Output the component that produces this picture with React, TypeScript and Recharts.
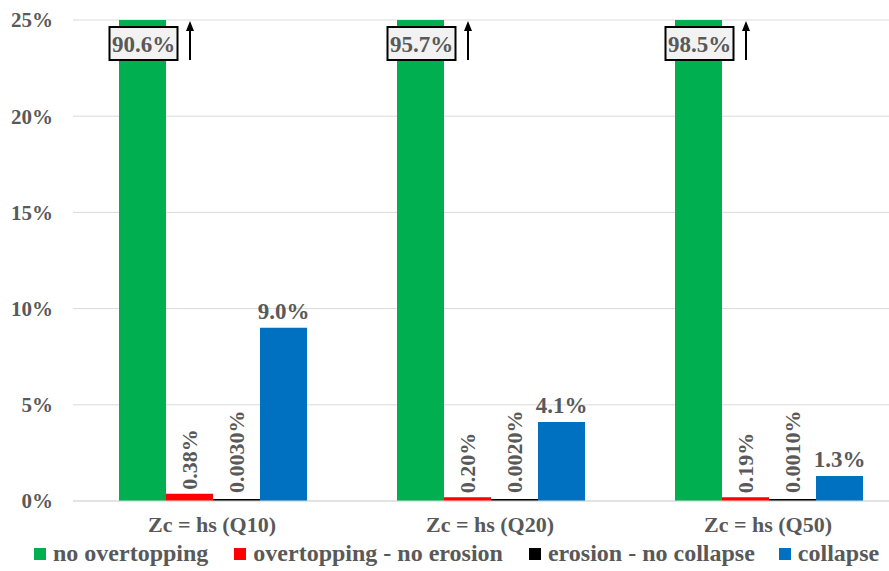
import React from 'react';
import { BarChart, Bar, XAxis, YAxis, CartesianGrid, Legend, LabelList } from 'recharts';

// Scenario categories along the x axis
const categories = ['Zc = hs (Q10)', 'Zc = hs (Q20)', 'Zc = hs (Q50)'];

// Probabilities (%) for each outcome
const noOvertopping = [90.6, 95.7, 98.5];
const overtoppingNoErosion = [0.38, 0.2, 0.19];
const erosionNoCollapse = [0.003, 0.002, 0.001];
const collapse = [9.0, 4.1, 1.3];

// Axis setup
const yTicks = [0, 5, 10, 15, 20, 25];
const Y_MAX = 25;

const seriesNames = ['no overtopping', 'overtopping - no erosion', 'erosion - no collapse', 'collapse'];
const seriesColors = ['#00b050', '#ff0000', '#000000', '#0070c0'];

const data = categories.map((name, i) => ({
  name,
  a: noOvertopping[i],
  b: overtoppingNoErosion[i],
  c: erosionNoCollapse[i],
  d: collapse[i],
}));

const FONT = '"Liberation Serif", "Times New Roman", Tinos, serif';
const TEXT = '#595959';

// Boxed value with an upward arrow for bars running past the axis top
const OverflowLabel = (props: any) => {
  const { x, y, width, height, value } = props;
  const bottom = y + height;
  const pxPerUnit = height / value;
  const plotTop = bottom - Y_MAX * pxPerUnit;
  const cx = x + width / 2 + 1;
  const boxW = 68;
  const boxH = 33;
  const boxTop = plotTop + 7;
  const ax = x + width + 24;
  return (
    <g>
      <rect x={cx - boxW / 2} y={boxTop} width={boxW} height={boxH} fill="#f2f2f2" stroke="#000" strokeWidth={2} />
      <text
        x={cx}
        y={boxTop + boxH / 2 + 1}
        textAnchor="middle"
        dominantBaseline="central"
        fontFamily={FONT}
        fontWeight="bold"
        fontSize={23}
        fill={TEXT}
      >
        {value.toFixed(1)}%
      </text>
      <line x1={ax} y1={boxTop + boxH} x2={ax} y2={plotTop + 9} stroke="#000" strokeWidth={2} />
      <path d={`M ${ax - 4} ${plotTop + 11} L ${ax} ${plotTop + 1} L ${ax + 4} ${plotTop + 11} Z`} fill="#000" />
    </g>
  );
};

const makeVerticalLabel = (digits: number, gap: number) => (props: any) => {
  const { x, y, width, value } = props;
  const cx = x + width / 2;
  const by = y - gap;
  return (
    <text
      x={cx}
      y={by}
      transform={`rotate(-90, ${cx}, ${by})`}
      textAnchor="start"
      dominantBaseline="central"
      fontFamily={FONT}
      fontWeight="bold"
      fontSize={22}
      fill={TEXT}
    >
      {value.toFixed(digits)}%
    </text>
  );
};

const TopLabel = (props: any) => {
  const { x, y, width, value } = props;
  return (
    <text
      x={x + width / 2}
      y={y - 9}
      textAnchor="middle"
      fontFamily={FONT}
      fontWeight="bold"
      fontSize={23}
      fill={TEXT}
    >
      {value.toFixed(1)}%
    </text>
  );
};

const legendGaps = [26, 26, 24, 0];

const LegendContent = () => (
  <div
    style={{
      display: 'flex',
      alignItems: 'center',
      paddingLeft: 34,
      fontFamily: FONT,
      fontWeight: 'bold',
      fontSize: 24,
      color: TEXT,
      whiteSpace: 'nowrap',
      lineHeight: '35px',
    }}
  >
    {seriesNames.map((n, i) => (
      <div key={n} style={{ display: 'flex', alignItems: 'center', marginRight: legendGaps[i] }}>
        <span style={{ display: 'inline-block', width: 12, height: 12, background: seriesColors[i], marginRight: 7 }} />
        <span>{n}</span>
      </div>
    ))}
  </div>
);

export default function App() {
  return (
    <div style={{ position: 'absolute', left: 0, top: 0, width: 889, height: 571, overflow: 'hidden', background: '#fff' }}>
      <BarChart
        width={920}
        height={571}
        data={data}
        margin={{ top: 20, right: 13, left: 0, bottom: 0 }}
        barCategoryGap={46}
        barGap={0}
      >
        <CartesianGrid vertical={false} stroke="#d9d9d9" />
        <XAxis
          dataKey="name"
          axisLine={{ stroke: '#d9d9d9' }}
          tickLine={false}
          tickMargin={9}
          height={35}
          tick={{ fontFamily: FONT, fontWeight: 'bold', fontSize: 22, fill: TEXT }}
        />
        <YAxis
          width={73}
          domain={[0, Y_MAX]}
          ticks={yTicks}
          allowDataOverflow
          axisLine={false}
          tickLine={false}
          tickMargin={14}
          tickFormatter={(v: number) => `${v}%`}
          tick={{ fontFamily: FONT, fontWeight: 'bold', fontSize: 21, fill: TEXT }}
        />
        <Legend verticalAlign="bottom" height={35} content={<LegendContent />} />
        <Bar dataKey="a" name={seriesNames[0]} fill={seriesColors[0]} isAnimationActive={false}>
          <LabelList dataKey="a" content={<OverflowLabel />} />
        </Bar>
        <Bar dataKey="b" name={seriesNames[1]} fill={seriesColors[1]} isAnimationActive={false}>
          <LabelList dataKey="b" content={makeVerticalLabel(2, 4)} />
        </Bar>
        <Bar dataKey="c" name={seriesNames[2]} fill={seriesColors[2]} minPointSize={2} isAnimationActive={false}>
          <LabelList dataKey="c" content={makeVerticalLabel(4, 6)} />
        </Bar>
        <Bar dataKey="d" name={seriesNames[3]} fill={seriesColors[3]} isAnimationActive={false}>
          <LabelList dataKey="d" content={<TopLabel />} />
        </Bar>
      </BarChart>
    </div>
  );
}
